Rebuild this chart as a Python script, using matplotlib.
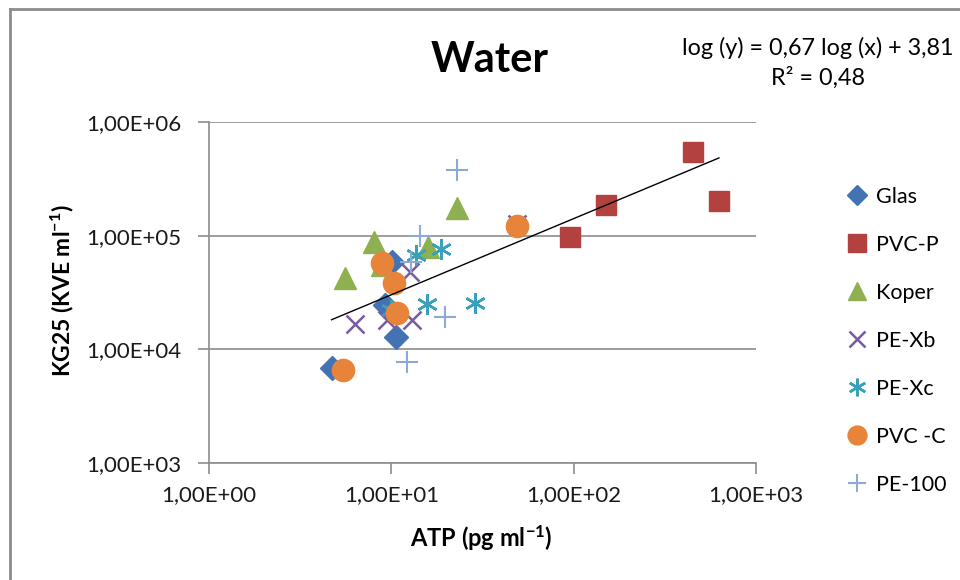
import matplotlib
matplotlib.use("Agg")
import matplotlib.pyplot as plt
from matplotlib.lines import Line2D
from matplotlib.ticker import FixedLocator, FuncFormatter, NullLocator
import numpy as np

plt.rcParams['font.family'] = ['Lato', 'DejaVu Sans']
plt.rcParams['mathtext.default'] = 'regular'

# ---- data ----
glas_x = [4.7, 10.6, 9.2, 10.1]
glas_y = [6.85e3, 1.28e4, 2.45e4, 5.9e4]

pvcp_x = [95, 150, 451, 626]
pvcp_y = [9.7e4, 1.86e5, 5.4e5, 2.01e5]

koper_x = [5.6, 8.0, 8.9, 15.8, 22.8]
koper_y = [4.2e4, 8.8e4, 5.5e4, 7.9e4, 1.75e5]

pexb_x = [6.3, 9.5, 13.0, 12.7, 48.6]
pexb_y = [1.67e4, 1.81e4, 1.81e4, 4.8e4, 1.26e5]

pexc_x = [13.7, 18.8, 15.6, 28.6, 10.0]
pexc_y = [6.7e4, 7.6e4, 2.5e4, 2.55e4, 2.2e4]

pvcc_x = [5.45, 8.9, 10.4, 10.8, 48.6]
pvcc_y = [6.6e3, 5.7e4, 3.8e4, 2.08e4, 1.21e5]

pe100_x = [23.0, 14.4, 12.9, 19.8, 12.2]
pe100_y = [3.8e5, 9.9e4, 5.9e4, 1.92e4, 7.7e3]

series_names = ["Glas", "PVC-P", "Koper", "PE-Xb", "PE-Xc", "PVC -C", "PE-100"]

# trendline coefficients (as shown in chart)
slope, intercept = 0.67, 3.81

x_ticks = [1, 10, 100, 1000]
y_ticks = [1e3, 1e4, 1e5, 1e6]

def sci_comma(v, pos=None):
    e = int(round(np.log10(v)))
    return "1,00E+%02d" % e

W, H = 960, 580
fig = plt.figure(figsize=(W / 100, H / 100), dpi=100)
ax = fig.add_axes([209 / W, 1 - 463 / H, (756 - 209) / W, (463 - 122) / H])

ax.set_xscale('log')
ax.set_yscale('log')
ax.set_xlim(1, 1000)
ax.set_ylim(1e3, 1e6)

styles = [
    (glas_x, glas_y, dict(marker='D', color='#4473B4', ms=12.5, ls='none')),
    (pvcp_x, pvcp_y, dict(marker='s', color='#B2413F', ms=15, ls='none')),
    (koper_x, koper_y, dict(marker='^', color='#8FB050', ms=16, ls='none')),
    (pexb_x, pexb_y, dict(marker='x', color='#7A5AA0', ms=13, mew=1.8, ls='none')),
    (pexc_x, pexc_y, dict(marker=(6, 2, 0), color='#38A0B8', ms=15, mew=1.8, ls='none')),
    (pvcc_x, pvcc_y, dict(marker='o', color='#E8843A', ms=16, ls='none')),
    (pe100_x, pe100_y, dict(marker='+', color='#8CAAD8', ms=16, mew=1.5, ls='none')),
]
handles = []
for (xs, ys, st), name in zip(styles, series_names):
    h, = ax.plot(xs, ys, label=name, zorder=3, **st)
    handles.append(h)

# trendline
all_x = glas_x + pvcp_x + koper_x + pexb_x + pexc_x + pvcc_x + pe100_x
lx = np.logspace(np.log10(min(all_x)), np.log10(max(all_x)), 50)
ly = 10 ** (slope * np.log10(lx) + intercept)
ax.plot(lx, ly, color='black', lw=1.0, zorder=4)

# axes styling
ax.xaxis.set_major_locator(FixedLocator(x_ticks))
ax.yaxis.set_major_locator(FixedLocator(y_ticks))
ax.xaxis.set_minor_locator(NullLocator())
ax.yaxis.set_minor_locator(NullLocator())
ax.xaxis.set_major_formatter(FuncFormatter(sci_comma))
ax.yaxis.set_major_formatter(FuncFormatter(sci_comma))
for s in ['top', 'right']:
    ax.spines[s].set_visible(False)
for s in ['left', 'bottom']:
    ax.spines[s].set_color('#8C8C8C')
    ax.spines[s].set_linewidth(1.2)
ax.tick_params(axis='both', direction='out', length=8, width=1.2, color='#8C8C8C',
               labelsize=16, labelcolor='#1A1A1A')
ax.tick_params(axis='x', pad=8)
ax.tick_params(axis='y', pad=12)
ax.grid(axis='y', color='#8C8C8C', lw=1.2)
ax.set_axisbelow(True)

fig.text(481 / W, 1 - 538 / H, r"ATP (pg ml$^{-1}$)", ha='center', va='center',
         fontsize=17, fontweight='bold')
fig.text(62 / W, 1 - 291 / H, r"KG25 (KVE ml$^{-1}$)", ha='center', va='center',
         fontsize=16.5, fontweight='bold', rotation=90)

fig.text(490 / W, 1 - 60 / H, "Water", ha='center', va='center', fontsize=30, fontweight='bold')
fig.text(818 / W, 1 - 48 / H, "log (y) = 0,67 log (x) + 3,81", ha='center', va='center', fontsize=16.8)
fig.text(818 / W, 1 - 78 / H, "R² = 0,48", ha='center', va='center', fontsize=16.8)

leg = fig.legend(handles=handles, loc='upper left', bbox_to_anchor=(838 / W, 1 - 178 / H),
                 frameon=False, fontsize=15.5, labelspacing=1.3, handletextpad=0.35,
                 handlelength=1.0, borderaxespad=0, markerscale=0.85)

# outer chart frame
fig.add_artist(Line2D([10 / W, 10 / W], [1 - 9 / H, 0], transform=fig.transFigure,
                      color='#8C8C8C', lw=2))
fig.add_artist(Line2D([10 / W, 1], [1 - 9 / H, 1 - 9 / H], transform=fig.transFigure,
                      color='#8C8C8C', lw=2))

fig.savefig("out.png", dpi=100)
